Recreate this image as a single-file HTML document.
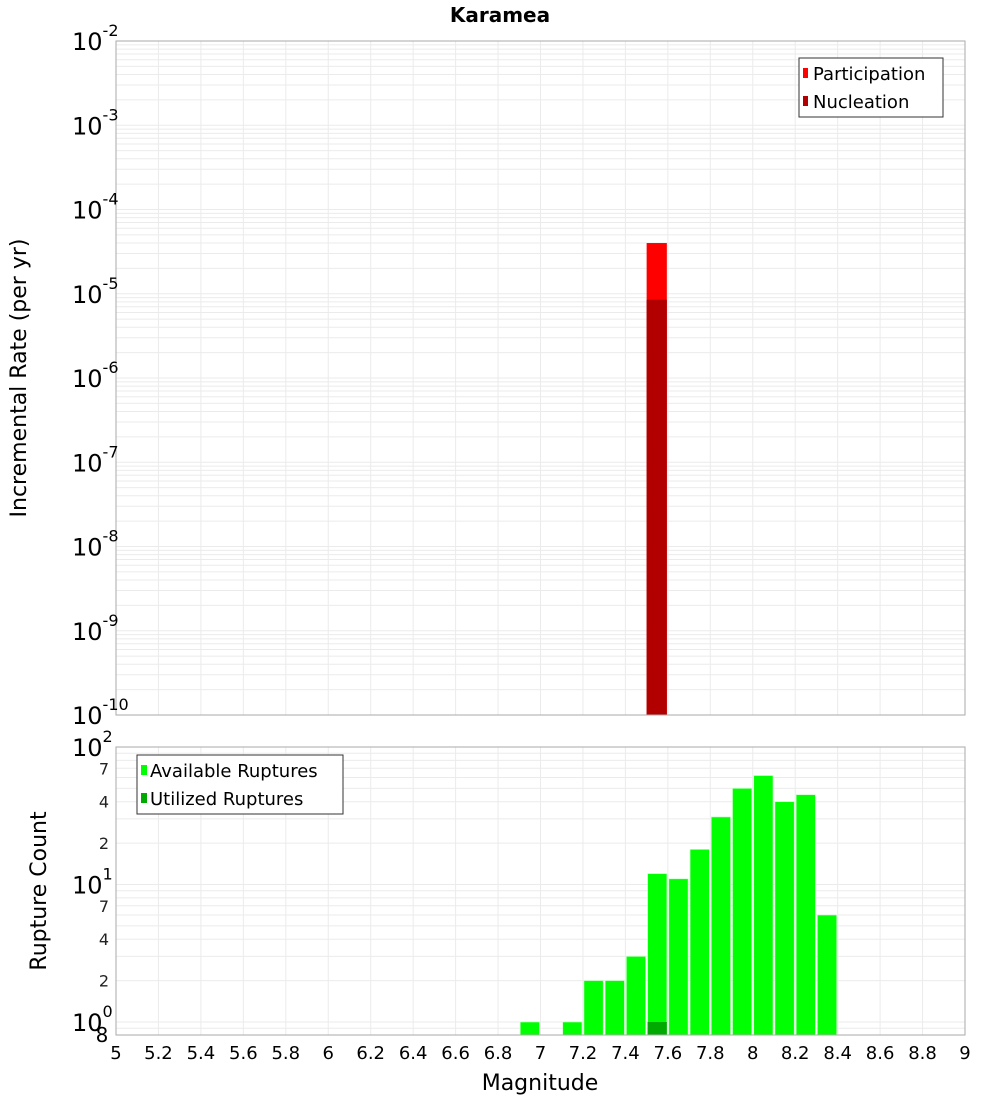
<!DOCTYPE html>
<html><head><meta charset="utf-8"><style>
body{margin:0;background:#fff;}
svg{display:block;font-family:"DejaVu Sans","Liberation Sans",sans-serif;}
</style></head><body>
<svg id="c" width="1000" height="1100" viewBox="0 0 1000 1100"></svg>
<script>
const topCenters=[7.55];
const participation=[4.0e-5];
const nucleation=[8.5e-6];
const botCenters=[6.95,7.15,7.25,7.35,7.45,7.55,7.65,7.75,7.85,7.95,8.05,8.15,8.25,8.35];
const available=[1,1,2,2,3,12,11,18,31,50,62,40,45,6];
const utilizedCenters=[7.55];
const utilized=[1];
const xTicks=[5,5.2,5.4,5.6,5.8,6,6.2,6.4,6.6,6.8,7,7.2,7.4,7.6,7.8,8,8.2,8.4,8.6,8.8,9];
const topDecades=[-2,-3,-4,-5,-6,-7,-8,-9,-10];
const botMinorLabels=[2,4,7];

const svg=document.getElementById('c');const NS='http://www.w3.org/2000/svg';
function el(t,a,p){const e=document.createElementNS(NS,t);for(const k in a)e.setAttribute(k,a[k]);(p||svg).appendChild(e);return e;}
const X0=116,X1=965;
const xs=v=>X0+(v-5)/4*(X1-X0);
const T0=41,T1=715;
const ty=v=>T0+(-2-Math.log10(v))/8*(T1-T0);
const B0=747,B1=1035,bDec=137.5,bOne=1022;
const by=v=>bOne-Math.log10(v)*bDec;

// title
let t=el('text',{x:500,y:22,'text-anchor':'middle','font-size':20,'font-weight':'bold'});t.textContent='Karamea';


// top plot
let g=el('g',{});
el('rect',{x:X0,y:T0,width:X1-X0,height:T1-T0,fill:'#fff'},g);
for(let d=-10;d<-2;d++)for(let m=1;m<10;m++){const y=ty(m*Math.pow(10,d));el('line',{x1:X0,x2:X1,y1:y,y2:y,stroke:'#ebebeb','stroke-width':1},g);}
xTicks.forEach(v=>el('line',{x1:xs(v),x2:xs(v),y1:T0,y2:T1,stroke:'#ebebeb'},g));
topCenters.forEach((c,i)=>{
 let r=el('rect',{x:xs(c-0.05),y:ty(participation[i]),width:xs(c+0.05)-xs(c-0.05)-1,height:T1-ty(participation[i]),fill:'#ff0000'},g);
 
 r=el('rect',{x:xs(c-0.05),y:ty(nucleation[i]),width:xs(c+0.05)-xs(c-0.05)-1,height:T1-ty(nucleation[i]),fill:'#b20000'},g);
 
});
el('rect',{x:X0,y:T0,width:X1-X0,height:T1-T0,fill:'none',stroke:'#aaa'},g);
topDecades.forEach(d=>{const y=ty(Math.pow(10,d));
 let tx=el('text',{x:72,y:y+9,'font-size':24},g);tx.textContent='10';
 let s=el('tspan',{dy:-14,'font-size':16},tx);s.textContent=String(d);
 });
t=el('text',{x:0,y:0,'font-size':22,'text-anchor':'middle',transform:'translate(26,378) rotate(-90)'});t.textContent='Incremental Rate (per yr)';

// top legend
let lg=el('g',{});
el('rect',{x:799,y:58,width:144,height:59,fill:'#fff',stroke:'#333'},lg);
el('rect',{x:803,y:68,width:5,height:10,fill:'#ff0000'},lg);
el('rect',{x:803,y:96,width:5,height:10,fill:'#b20000'},lg);
t=el('text',{x:813,y:80,'font-size':18},lg);t.textContent='Participation';
t=el('text',{x:813,y:108,'font-size':18},lg);t.textContent='Nucleation';

// bottom plot
g=el('g',{});
for(let d=-1;d<2;d++)for(let m=1;m<10;m++){const y=by(m*Math.pow(10,d));if(y>=B0&&y<=B1)el('line',{x1:X0,x2:X1,y1:y,y2:y,stroke:'#ebebeb'},g);}
xTicks.forEach(v=>el('line',{x1:xs(v),x2:xs(v),y1:B0,y2:B1,stroke:'#ebebeb'},g));
botCenters.forEach((c,i)=>{
 let r=el('rect',{x:xs(c-0.05)+1,y:by(available[i]),width:xs(c+0.05)-xs(c-0.05)-2,height:B1-by(available[i]),fill:'#00ff00',stroke:'#bfffbf','stroke-width':0.6},g);
 });
utilizedCenters.forEach((c,i)=>{
 let r=el('rect',{x:xs(c-0.05)+1,y:by(utilized[i]),width:xs(c+0.05)-xs(c-0.05)-2,height:B1-by(utilized[i]),fill:'#00aa00'},g);
 });
el('rect',{x:X0,y:B0,width:X1-X0,height:B1-B0,fill:'none',stroke:'#aaa'},g);
[0,1,2].forEach(d=>{const y=by(Math.pow(10,d));
 let tx=el('text',{x:72,y:y+9,'font-size':24},g);tx.textContent='10';
 let s=el('tspan',{dy:-14,'font-size':16},tx);s.textContent=String(d);
 });
[0,1].forEach(d=>botMinorLabels.forEach(m=>{const y=by(m*Math.pow(10,d));
 let tx=el('text',{x:104,y:y+6,'font-size':16,'text-anchor':'middle',fill:'#222'},g);tx.textContent=String(m);}));
t=el('text',{x:102,y:1042,'font-size':20,'text-anchor':'middle'},g);t.textContent='8';
xTicks.forEach(v=>{let tx=el('text',{x:xs(v),y:1059,'font-size':18,'text-anchor':'middle'},g);tx.textContent=String(v);
 });
t=el('text',{x:540,y:1090,'font-size':22,'text-anchor':'middle'});t.textContent='Magnitude';

t=el('text',{x:0,y:0,'font-size':22,'text-anchor':'middle',transform:'translate(46,891) rotate(-90)'});t.textContent='Rupture Count';

lg=el('g',{});
el('rect',{x:137,y:755,width:206,height:59,fill:'#fff',stroke:'#333'},lg);
el('rect',{x:141,y:765,width:6,height:10,fill:'#00ff00'},lg);
el('rect',{x:141,y:793,width:6,height:10,fill:'#00aa00'},lg);
t=el('text',{x:150,y:777,'font-size':18},lg);t.textContent='Available Ruptures';
t=el('text',{x:150,y:805,'font-size':18},lg);t.textContent='Utilized Ruptures';
</script>
</body></html>
